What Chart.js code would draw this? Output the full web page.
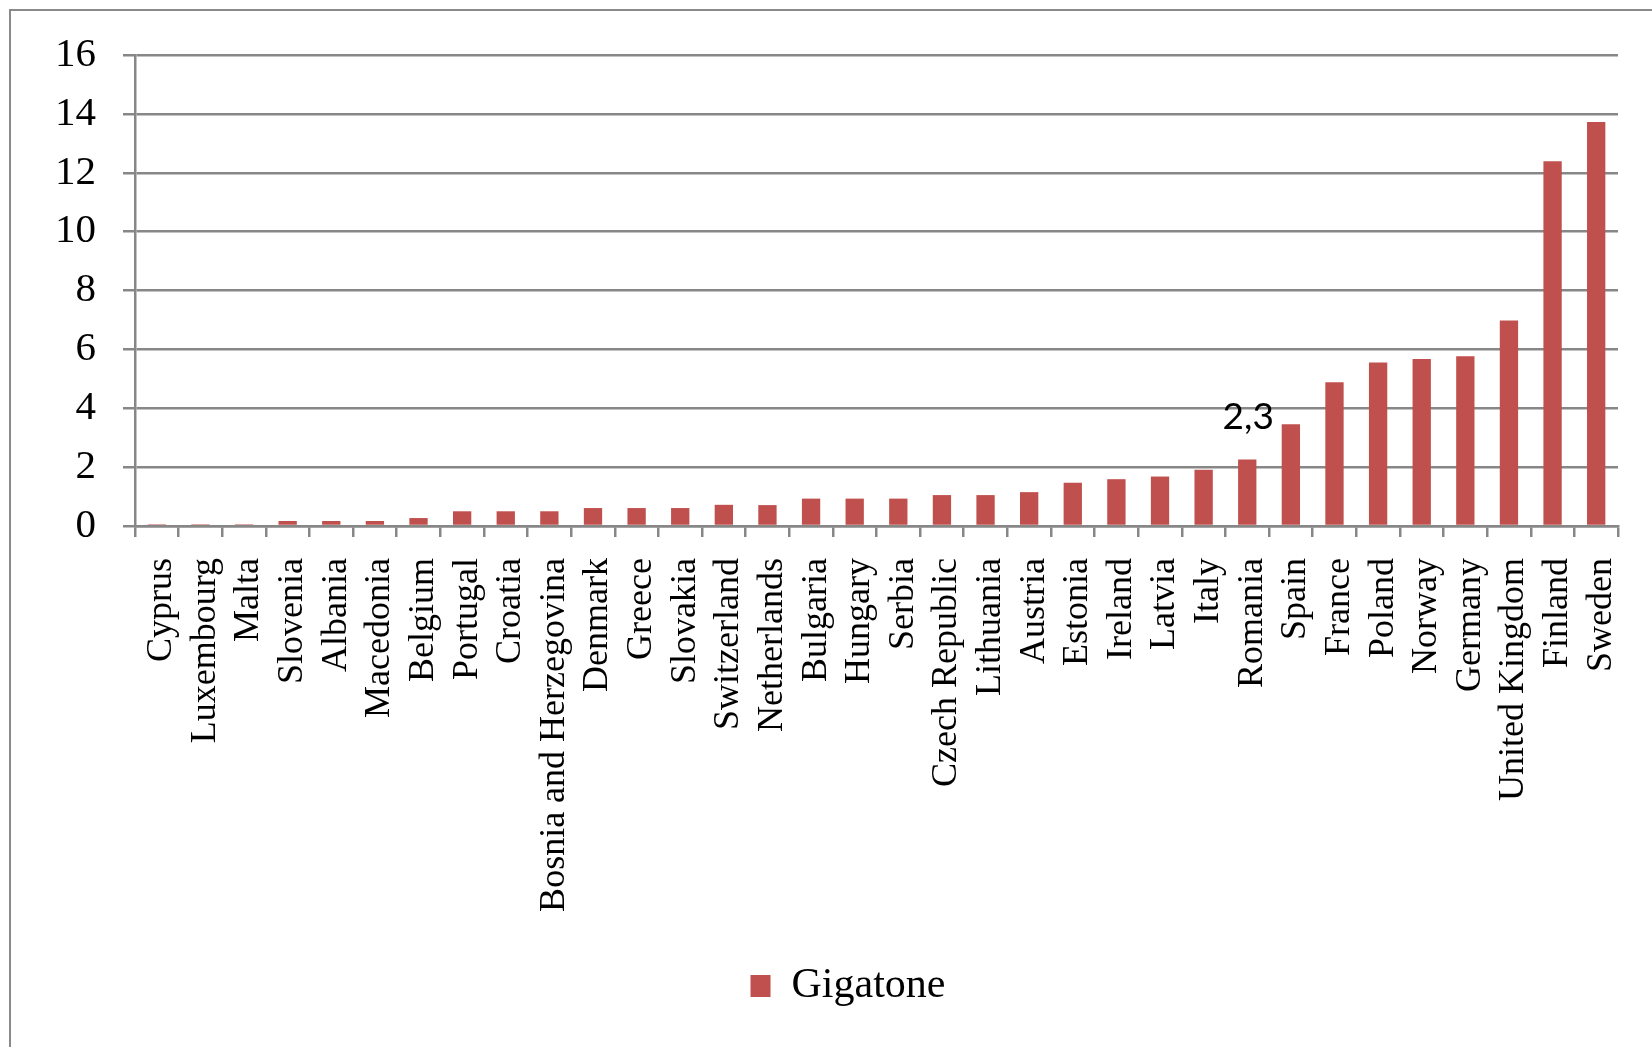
<!DOCTYPE html>
<html>
<head>
<meta charset="utf-8">
<script src="https://cdn.jsdelivr.net/npm/chart.js@4/dist/chart.umd.min.js"></script>
<style>
  html, body { margin: 0; padding: 0; background: #fff; overflow: hidden; }
  #frame { position: absolute; left: 9px; top: 9px; width: 1700px; height: 1100px; border: 2px solid #8a8a8a; }
  #chartBox { position: absolute; left: 0; top: 0; width: 1652px; height: 1047px; }
</style>
</head>
<body>
<div id="frame"></div>
<div id="chartBox"><canvas id="gigaChart" width="1652" height="1047"></canvas></div>
<script>
const countries = [
  "Cyprus", "Luxembourg", "Malta", "Slovenia", "Albania", "Macedonia", "Belgium",
  "Portugal", "Croatia", "Bosnia and Herzegovina", "Denmark", "Greece", "Slovakia",
  "Switzerland", "Netherlands", "Bulgaria", "Hungary", "Serbia", "Czech Republic",
  "Lithuania", "Austria", "Estonia", "Ireland", "Latvia", "Italy", "Romania", "Spain",
  "France", "Poland", "Norway", "Germany", "United Kingdom", "Finland", "Sweden"
];
const gigatone = [
  0.06, 0.06, 0.06, 0.17, 0.17, 0.17, 0.27,
  0.50, 0.50, 0.50, 0.61, 0.61, 0.61,
  0.72, 0.71, 0.93, 0.93, 0.93, 1.05,
  1.05, 1.15, 1.47, 1.59, 1.68, 1.91, 2.26, 3.46,
  4.88, 5.55, 5.67, 5.77, 6.98, 12.39, 13.72
];
const yTicks = [0, 2, 4, 6, 8, 10, 12, 14, 16];
const labelledCountry = "Romania";

const gridGrey = "#878787";
const barRed = "#C0504D";
const serif = "'Liberation Serif', 'Times New Roman', serif";

// only one bar carries a value label in the original
const valueLabel = {
  id: "valueLabel",
  afterDatasetsDraw(chart) {
    const idx = countries.indexOf(labelledCountry);
    const bar = chart.getDatasetMeta(0).data[idx];
    if (!bar) return;
    const ctx = chart.ctx;
    ctx.save();
    ctx.font = "37px Lato, 'Open Sans', sans-serif";
    ctx.fillStyle = "#000";
    ctx.textAlign = "center";
    ctx.textBaseline = "alphabetic";
    ctx.fillText(gigatone[idx].toFixed(1).replace(".", ","), bar.x + 1, bar.y - 30);
    ctx.restore();
  }
};

// the legend sits a bit right of the canvas centre (the original frame is cropped)
const legendShift = {
  id: "legendShift",
  afterLayout(chart) {
    if (!chart.legend) return;
    chart.legend.left += 39;
    chart.legend.right += 39;
  }
};

const ctx = document.getElementById("gigaChart").getContext("2d");
new Chart(ctx, {
  type: "bar",
  data: {
    labels: countries,
    datasets: [{
      label: "Gigatone",
      data: gigatone,
      backgroundColor: barRed,
      borderWidth: 0,
      barPercentage: 0.42,
      categoryPercentage: 1.0
    }]
  },
  options: {
    responsive: false,
    animation: false,
    layout: { padding: { left: 0, right: 34, top: 55, bottom: 30 } },
    plugins: {
      tooltip: { enabled: false },
      legend: {
        display: true,
        position: "bottom",
        labels: {
          boxWidth: 20,
          boxHeight: 22,
          padding: 10,
          color: "#000",
          font: { family: serif, size: 42 }
        }
      }
    },
    scales: {
      x: {
        afterFit(scale) {
          scale.height = 429;
          scale.paddingLeft = 0;
          scale.paddingRight = 0;
        },
        grid: {
          offset: true,
          drawOnChartArea: false,
          drawTicks: true,
          tickLength: 11,
          color: gridGrey,
          lineWidth: 2.5
        },
        border: { display: true, color: gridGrey, width: 2.5 },
        ticks: {
          autoSkip: false,
          minRotation: 90,
          maxRotation: 90,
          padding: 21,
          labelOffset: 5,
          color: "#000",
          font: { family: serif, size: 36 }
        }
      },
      y: {
        min: 0,
        max: 16,
        afterFit(scale) { scale.width = 135; },
        afterBuildTicks(scale) { scale.ticks = yTicks.map(v => ({ value: v })); },
        grid: {
          drawTicks: true,
          tickLength: 12,
          color: gridGrey,
          lineWidth: 2.5
        },
        border: { display: true, color: gridGrey, width: 2.5 },
        ticks: {
          padding: 27,
          color: "#000",
          font: { family: serif, size: 41 }
        }
      }
    }
  },
  plugins: [valueLabel, legendShift]
});
</script>
</body>
</html>
